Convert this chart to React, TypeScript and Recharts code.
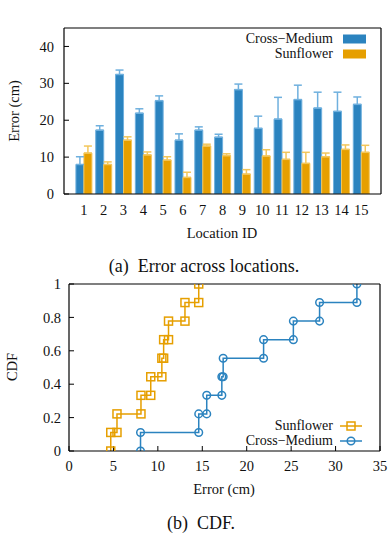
import React from 'react';
import { BarChart, Bar, ErrorBar, LineChart, Line, XAxis, YAxis } from 'recharts';

// bar chart data (mean error + upper error per location)
const locations = [1, 2, 3, 4, 5, 6, 7, 8, 9, 10, 11, 12, 13, 14, 15];
const crossMedium = [8.0, 17.3, 32.4, 21.9, 25.3, 14.6, 17.3, 15.4, 28.3, 17.8, 20.3, 25.6, 23.3, 22.4, 24.3];
const crossMediumErr = [2.1, 1.2, 1.2, 1.2, 1.3, 1.7, 0.9, 0.8, 1.5, 3.3, 5.9, 3.9, 4.3, 5.2, 2.0];
const sunflower = [11.1, 8.0, 14.6, 10.6, 9.2, 4.5, 13.0, 10.4, 5.4, 10.3, 9.4, 8.3, 10.1, 12.1, 11.3];
const sunflowerErr = [1.9, 0.7, 0.9, 0.8, 0.9, 1.4, 0.5, 0.5, 1.2, 1.7, 1.9, 3.0, 1.0, 1.2, 1.9];

// sorted errors for the CDF
const sunflowerCdf = [4.7, 5.4, 8.1, 9.2, 10.45, 10.65, 11.2, 13.05, 14.6];
const crossMediumCdf = [8.05, 14.6, 15.5, 17.2, 17.35, 21.9, 25.25, 28.2, 32.4];

const barTicksY = [0, 10, 20, 30, 40];
const cdfTicksX = [0, 5, 10, 15, 20, 25, 30, 35];
const cdfTicksY = [0, 0.2, 0.4, 0.6, 0.8, 1];

const BLUE = '#2b83bf';
const BLUE_LIGHT = '#6fb0de';
const ORANGE = '#e69f00';
const ORANGE_LIGHT = '#f3c65a';
const FONT = '"Liberation Serif", "Times New Roman", serif';

const barRows = locations.map((id, i) => ({
    id,
    cross: crossMedium[i],
    crossErr: [0, crossMediumErr[i]],
    sun: sunflower[i],
    sunErr: [0, sunflowerErr[i]],
}));

// step CDF: vertical then horizontal at each sorted value
function stepPoints(values: number[]) {
    const n = values.length;
    const pts: { x: number; y: number }[] = [];
    values.forEach((v, k) => {
        pts.push({ x: v, y: k / n });
        pts.push({ x: v, y: (k + 1) / n });
    });
    return pts;
}

const sunPts = stepPoints(sunflowerCdf);
const crossPts = stepPoints(crossMediumCdf);

const topBarTicks = locations.flatMap((l) => [l, l + 0.5]);

const tickStyle = { fontSize: 14.5, fontFamily: FONT, fill: '#111' };
const axisStroke = { stroke: '#000', strokeWidth: 1.2 };

function SquareDot(props: any) {
    const { cx, cy, index } = props;
    return (
        <rect key={`sq-${index}`} x={cx - 4} y={cy - 4} width={8} height={8}
            fill="none" stroke={ORANGE} strokeWidth={1.5} />
    );
}

function CircleDot(props: any) {
    const { cx, cy, index } = props;
    return <circle key={`ci-${index}`} cx={cx} cy={cy} r={3.8} fill="none" stroke={BLUE} strokeWidth={1.5} />;
}

function Text({ x, y, children, size = 14.5, rotate = false }: any) {
    return (
        <div
            style={{
                position: 'absolute',
                left: x,
                top: y,
                transform: `translate(-50%, -50%)${rotate ? ' rotate(-90deg)' : ''}`,
                whiteSpace: 'nowrap',
                fontSize: size,
                fontFamily: FONT,
                color: '#111',
                lineHeight: 1,
            }}
        >
            {children}
        </div>
    );
}

function LegendRow({ y, label, children }: any) {
    return (
        <>
            <div style={{ position: 'absolute', right: 388 - 333, top: y - 6.5, fontSize: 14, fontFamily: FONT, lineHeight: '13px', height: 13, color: '#111', whiteSpace: 'nowrap' }}>
                {label}
            </div>
            <svg style={{ position: 'absolute', left: 338, top: y - 7 }} width={30} height={14}>
                {children}
            </svg>
        </>
    );
}

export default function App() {
    return (
        <div style={{ position: 'absolute', left: 0, top: 0, width: 388, height: 535, background: '#fff', overflow: 'hidden' }}>
            {/* (a) Error across locations */}
            <div style={{ position: 'absolute', left: 0, top: 0 }}>
                <BarChart width={388} height={240} data={barRows} margin={{ top: 18, right: 0, bottom: 24, left: 0 }} barGap={0} barSize={8}>
                    <XAxis xAxisId="b" dataKey="id" type="number" domain={[0, 16]} ticks={locations} interval={0}
                        allowDataOverflow axisLine={axisStroke} tickLine={false} tickSize={0} tickMargin={11} height={22} tick={tickStyle} />
                    <XAxis xAxisId="t" orientation="top" type="number" domain={[0, 16]} ticks={topBarTicks} interval={0}
                        allowDataOverflow axisLine={axisStroke} tickLine={{ stroke: '#000' }} tick={false} tickSize={-4} height={10} />
                    <YAxis yAxisId="l" type="number" domain={[0, 45]} ticks={barTicksY} interval={0} allowDataOverflow
                        width={64} axisLine={axisStroke} tickLine={{ stroke: '#000' }} tickSize={-5} tickMargin={15} tick={tickStyle} />
                    <YAxis yAxisId="r" orientation="right" type="number" domain={[0, 45]} ticks={barTicksY} interval={0} allowDataOverflow
                        width={7} axisLine={axisStroke} tickLine={{ stroke: '#000' }} tickSize={-5} tick={false} />
                    <Bar xAxisId="b" yAxisId="l" dataKey="cross" fill={BLUE} stroke={BLUE_LIGHT} strokeWidth={1} isAnimationActive={false}>
                        <ErrorBar dataKey="crossErr" width={4} stroke={BLUE_LIGHT} strokeWidth={1.5} />
                    </Bar>
                    <Bar xAxisId="b" yAxisId="l" dataKey="sun" fill={ORANGE} stroke={ORANGE_LIGHT} strokeWidth={1} isAnimationActive={false}>
                        <ErrorBar dataKey="sunErr" width={4} stroke={ORANGE_LIGHT} strokeWidth={1.5} />
                    </Bar>
                </BarChart>
            </div>
            <Text x={14} y={111} rotate>Error (cm)</Text>
            <Text x={222} y={233}>Location ID</Text>
            <LegendRow y={38.5} label="Cross−Medium">
                <rect x={5} y={2.5} width={23} height={9} fill={BLUE} />
            </LegendRow>
            <LegendRow y={53.5} label="Sunflower">
                <rect x={5} y={2.5} width={23} height={9} fill={ORANGE} />
            </LegendRow>
            <Text x={204} y={266} size={18}>(a)&nbsp;&nbsp;Error across locations.</Text>

            {/* (b) CDF */}
            <div style={{ position: 'absolute', left: 0, top: 270 }}>
                <LineChart width={388} height={240} margin={{ top: 4, right: 0, bottom: 29, left: 0 }}>
                    <XAxis xAxisId="b" dataKey="x" type="number" domain={[0, 35]} ticks={cdfTicksX} interval={0} allowDataOverflow
                        axisLine={axisStroke} tickLine={{ stroke: '#000' }} tickSize={-5} tickMargin={15} height={30} tick={tickStyle} />
                    <XAxis xAxisId="t" orientation="top" type="number" domain={[0, 35]} ticks={cdfTicksX} interval={0} allowDataOverflow
                        axisLine={axisStroke} tickLine={{ stroke: '#000' }} tickSize={-5} tick={false} height={10} />
                    <YAxis yAxisId="l" type="number" domain={[0, 1]} ticks={cdfTicksY} interval={0} allowDataOverflow
                        width={69} axisLine={axisStroke} tickLine={{ stroke: '#000' }} tickSize={-5} tickMargin={13} tick={tickStyle} />
                    <YAxis yAxisId="r" orientation="right" type="number" domain={[0, 1]} ticks={cdfTicksY} interval={0} allowDataOverflow
                        width={8} axisLine={axisStroke} tickLine={{ stroke: '#000' }} tickSize={-5} tick={false} />
                    <Line xAxisId="b" yAxisId="l" data={sunPts} dataKey="y" type="linear" stroke={ORANGE} strokeWidth={1.5}
                        dot={SquareDot} activeDot={false} isAnimationActive={false} />
                    <Line xAxisId="b" yAxisId="l" data={crossPts} dataKey="y" type="linear" stroke={BLUE} strokeWidth={1.5}
                        dot={CircleDot} activeDot={false} isAnimationActive={false} />
                </LineChart>
            </div>
            <Text x={12} y={367} rotate>CDF</Text>
            <Text x={224} y={489}>Error (cm)</Text>
            <LegendRow y={425.5} label="Sunflower">
                <line x1={2} x2={24} y1={7} y2={7} stroke={ORANGE} strokeWidth={1.5} />
                <rect x={9} y={3} width={8} height={8} fill="none" stroke={ORANGE} strokeWidth={1.5} />
            </LegendRow>
            <LegendRow y={440.5} label="Cross−Medium">
                <line x1={2} x2={24} y1={7} y2={7} stroke={BLUE} strokeWidth={1.5} />
                <circle cx={13} cy={7} r={3.8} fill="none" stroke={BLUE} strokeWidth={1.5} />
            </LegendRow>
            <Text x={201} y={523} size={18}>(b)&nbsp;&nbsp;CDF.</Text>
        </div>
    );
}
